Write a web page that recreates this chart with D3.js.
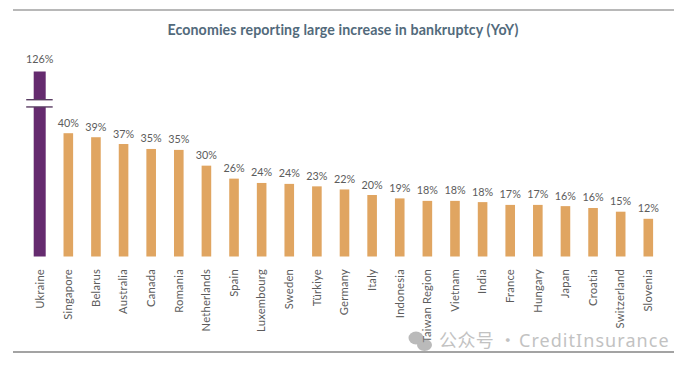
<!DOCTYPE html>
<html><head><meta charset="utf-8">
<script src="https://cdn.jsdelivr.net/npm/d3@7"></script>
<style>html,body{margin:0;padding:0;background:#fff}svg{display:block}</style></head>
<body><svg id="c" width="692" height="369"></svg>
<script>
const titleText = "Economies reporting large increase in bankruptcy (YoY)";
const categories = ["Ukraine","Singapore","Belarus","Australia","Canada","Romania","Netherlands","Spain","Luxembourg","Sweden","Türkiye","Germany","Italy","Indonesia","Taiwan Region","Vietnam","India","France","Hungary","Japan","Croatia","Switzerland","Slovenia"];
const values = [126,39.9,38.6,36.4,34.8,34.5,29.4,25.2,23.8,23.5,22.7,21.7,19.9,18.8,18,18,17.6,16.7,16.7,16.3,15.7,14.5,12.2];
const valueLabels = ["126%","40%","39%","37%","35%","35%","30%","26%","24%","24%","23%","22%","20%","19%","18%","18%","18%","17%","17%","16%","16%","15%","12%"];
const breakValues = [55.7, 48.4];
const watermarkCjk = "公众号 ·";
const watermarkLatin = "CreditInsurance";

const svg = d3.select("#c");
const font = "Lato, 'Open Sans', sans-serif";
const x = d3.scalePoint().domain(categories).range([40.7, 648.3]);
const y = d3.scaleLinear().domain([0, 50, 126]).range([256.5, 102, 71.5]);

svg.append("rect").attr("width",692).attr("height",369).attr("fill","#fff");
[[10,"#b8b8b8"],[352,"#a3a3a3"]].forEach(([yy,c]) =>
  svg.append("line").attr("x1",13).attr("x2",674).attr("y1",yy).attr("y2",yy).attr("stroke",c).attr("stroke-width",1.8));

svg.append("text").attr("x",343).attr("y",35).attr("text-anchor","middle")
  .attr("font-family",font).attr("font-weight",700).attr("font-size",14.2).attr("letter-spacing",0.12).attr("fill","#526a7b").text(titleText);

const data = categories.map((c,i)=>({c,v:values[i],l:valueLabels[i],i}));
const w = d => d.i===0 ? 12 : 9.6;
const cx = d => d.i===0 ? x(d.c)-1 : x(d.c);

svg.append("g").selectAll("rect").data(data).join("rect")
  .attr("x",d=>cx(d)-w(d)/2).attr("width",w).attr("y",d=>y(d.v)).attr("height",d=>y(0)-y(d.v))
  .attr("fill",d=>d.i===0?"#652b6f":"#e0a561");

const u = data[0];
svg.append("rect").attr("x",cx(u)-8).attr("width",16).attr("y",y(breakValues[0])).attr("height",y(breakValues[1])-y(breakValues[0])).attr("fill","#fff");
breakValues.forEach(b => svg.append("line").attr("x1",cx(u)-13.5).attr("x2",cx(u)+13).attr("y1",y(b)).attr("y2",y(b)).attr("stroke","#5a3d63").attr("stroke-width",1.4));

svg.append("g").selectAll("text").data(data).join("text")
  .attr("x",d=>cx(d)).attr("y",d=>y(d.v)-(d.i===0?8.5:6.5)).attr("text-anchor","middle")
  .attr("font-family",font).attr("font-size",10.8).attr("fill","#5c5c5c").text(d=>d.l);

svg.append("g").selectAll("text").data(data).join("text")
  .attr("transform",d=>`translate(${cx(d)+3.8},269) rotate(-90)`).attr("text-anchor","end")
  .attr("font-family",font).attr("font-size",11.2).attr("letter-spacing",0.22).attr("fill","#5c5c5c").text(d=>d.c);

const wm = svg.append("g").attr("opacity",0.6);
wm.append("ellipse").attr("cx",416).attr("cy",338).attr("rx",7.5).attr("ry",6.5).attr("fill","#8d8d8d");
wm.append("ellipse").attr("cx",424.5).attr("cy",345).attr("rx",7.5).attr("ry",6).attr("fill","#8d8d8d");
wm.append("text").attr("x",439).attr("y",347).attr("font-family","'Noto Sans CJK SC','Noto Sans',sans-serif")
  .attr("font-size",18).attr("letter-spacing",0.4).attr("fill","#9a9a9a").text(watermarkCjk);
wm.append("text").attr("x",519).attr("y",347).attr("font-family","'Noto Sans',sans-serif")
  .attr("font-size",18).attr("letter-spacing",1.05).attr("fill","#9a9a9a").text(watermarkLatin);
</script></body></html>
